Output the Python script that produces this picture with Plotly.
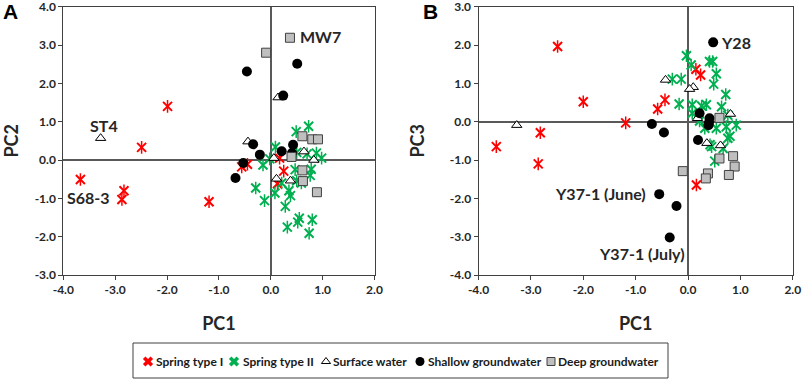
import plotly.graph_objects as go

# ---------------- data ----------------
tick_x_vals = [-4, -3, -2, -1, 0, 1, 2]
tick_x_text = ["-4.0", "-3.0", "-2.0", "-1.0", "0.0", "1.0", "2.0"]
tick_ya_vals = [-3, -2, -1, 0, 1, 2, 3, 4]
tick_ya_text = ["-3.0", "-2.0", "-1.0", "0.0", "1.0", "2.0", "3.0", "4.0"]
tick_yb_vals = [-4, -3, -2, -1, 0, 1, 2, 3]
tick_yb_text = ["-4.0", "-3.0", "-2.0", "-1.0", "0.0", "1.0", "2.0", "3.0"]

groups = ["Spring type I", "Spring type II", "Surface water", "Shallow groundwater", "Deep groundwater"]

# Panel A : PC1 vs PC2
s1_a_pc1 = [-3.67, -2.87, -2.83, -2.49, -1.99, -1.19, -0.56, -0.45, 0.13, 0.17, 0.25]
s1_a_pc2 = [-0.51, -1.03, -0.80, 0.33, 1.40, -1.09, -0.18, -0.11, -0.62, 0.05, -0.29]
s2_a_pc1 = [0.49, 0.73, 0.09, -0.15, -0.02, 0.50, 0.70, 0.88, 0.98, 0.47, 0.78, 0.76, 0.59,
            0.21, -0.29, 0.08, 0.35, 0.38, -0.12, 0.28, 0.55, 0.52, 0.80, 0.32, 0.74, 0.50]
s2_a_pc2 = [0.74, 0.88, 0.34, -0.13, 0.03, 0.20, 0.16, 0.18, 0.05, -0.25, -0.24, -0.40, -0.60,
            -0.60, -0.73, -0.86, -0.80, -0.93, -1.06, -1.21, -1.52, -1.62, -1.56, -1.75, -1.91, -0.54]
sw_a_pc1 = [-3.28, 0.14, -0.44, 0.06, 0.64, 0.83, 0.11, 0.38]
sw_a_pc2 = [0.57, 1.63, 0.48, 0.05, 0.22, 0.00, -0.49, -0.54]
sh_a_pc1 = [-0.46, 0.51, 0.24, -0.34, -0.21, -0.53, -0.68, 0.21, 0.43, 0.41]
sh_a_pc2 = [2.31, 2.51, 1.68, 0.41, 0.14, -0.08, -0.47, 0.23, 0.40, 0.18]
dp_a_pc1 = [0.37, -0.09, 0.61, 0.80, 0.91, 0.40, 0.61, 0.62, 0.89]
dp_a_pc2 = [3.19, 2.80, 0.62, 0.54, 0.54, 0.08, -0.27, -0.55, -0.84]

# Panel B : PC1 vs PC3
s1_b_pc1 = [-3.66, -2.86, -2.82, -2.49, -2.00, -1.19, -0.58, -0.44, 0.15, 0.24, 0.16]
s1_b_pc3 = [-0.65, -1.10, -0.29, 1.96, 0.52, -0.03, 0.33, 0.57, 1.37, 1.22, -1.65]
s2_b_pc1 = [-0.03, 0.06, 0.41, 0.47, 0.54, 0.49, -0.30, -0.13, -0.17, 0.72, 0.08, 0.26, 0.35, 0.64,
            0.08, 0.76, 0.32, 0.54, 0.73, 0.92, 0.76, 0.45, 0.67, 0.51, 0.22, 0.80, 0.42]
s2_b_pc3 = [1.72, 1.48, 1.57, 1.57, 1.25, 0.98, 1.11, 1.11, 0.46, 0.71, 0.44, 0.41, 0.44, 0.39,
            0.22, 0.17, -0.17, -0.17, -0.13, -0.09, -0.43, -0.65, -0.70, -1.03, 0.02, -0.38, -0.60]
sw_b_pc1 = [-3.27, -0.43, 0.10, 0.03, 0.18, 0.81, 0.36, 0.62]
sw_b_pc3 = [-0.09, 1.09, 0.90, 0.85, 0.09, 0.20, -0.56, -0.62]
sh_b_pc1 = [0.48, -0.69, -0.46, 0.22, 0.41, 0.40, 0.39, 0.19, -0.55, -0.22, -0.35]
sh_b_pc3 = [2.07, -0.06, -0.28, 0.22, 0.09, -0.03, -0.09, -0.48, -1.89, -2.20, -3.02]
dp_b_pc1 = [-0.10, 0.60, 0.60, 0.86, 0.89, 0.78, 0.38, 0.34]
dp_b_pc3 = [-1.29, 0.10, -0.96, -0.90, -1.17, -1.39, -1.35, -1.48]

# sample labels
labels_a = ["MW7", "ST4", "S68-3"]
labels_a_x = [0.52, -3.22, -3.52]
labels_a_y = [3.22, 0.89, -0.99]
labels_b = ["Y28", "Y37-1 (June)", "Y37-1 (July)"]
labels_b_x = [0.59, -0.77, -0.88]
labels_b_y = [2.07, -1.87, -3.44]

# ---------------- styles ----------------
RED = "#FF0000"
GREEN = "#00B050"
FONT = "Lato"
W, H = 803, 381

fig = go.Figure()

def add_panel(xa, ya, s1, s2, sw, sh, dp):
    for pts, col, g in ((s1, RED, groups[0]), (s2, GREEN, groups[1])):
        fig.add_trace(go.Scatter(x=pts[0], y=pts[1], mode="markers", name=g,
                                 showlegend=False, xaxis=xa, yaxis=ya,
                                 marker=dict(symbol="x-thin-open", size=9, color=col,
                                             line=dict(color=col, width=2))))
        fig.add_trace(go.Scatter(x=pts[0], y=pts[1], mode="markers", name=g,
                                 showlegend=False, xaxis=xa, yaxis=ya, hoverinfo="skip",
                                 marker=dict(symbol="line-ns-open", size=9, color=col,
                                             line=dict(color=col, width=1.5))))
    fig.add_trace(go.Scatter(x=sw[0], y=sw[1], mode="markers", name=groups[2],
                             showlegend=False, xaxis=xa, yaxis=ya,
                             marker=dict(symbol="triangle-up", size=9, color="white",
                                         line=dict(color="black", width=1))))
    fig.add_trace(go.Scatter(x=sh[0], y=sh[1], mode="markers", name=groups[3],
                             showlegend=False, xaxis=xa, yaxis=ya,
                             marker=dict(symbol="circle", size=10, color="black",
                                         line=dict(color="black", width=0))))
    fig.add_trace(go.Scatter(x=dp[0], y=dp[1], mode="markers", name=groups[4],
                             showlegend=False, xaxis=xa, yaxis=ya,
                             marker=dict(symbol="square", size=9, color="#BFBFBF",
                                         line=dict(color="#404040", width=1))))

add_panel("x", "y", (s1_a_pc1, s1_a_pc2), (s2_a_pc1, s2_a_pc2), (sw_a_pc1, sw_a_pc2),
          (sh_a_pc1, sh_a_pc2), (dp_a_pc1, dp_a_pc2))
add_panel("x2", "y2", (s1_b_pc1, s1_b_pc3), (s2_b_pc1, s2_b_pc3), (sw_b_pc1, sw_b_pc3),
          (sh_b_pc1, sh_b_pc3), (dp_b_pc1, dp_b_pc3))

# ---------------- legend (keys drawn on a pixel-space overlay axis) ----------------
legend_box = dict(x0=133, x1=668, y0=343, y1=378)
legend_key_x = [148, 234, 326, 420, 551]
legend_text_x = [154, 241, 331, 426, 556]
legend_row_y = 361.5
key_styles = [
    dict(symbol="x", size=9, color=RED, line=dict(width=0)),
    dict(symbol="x", size=9, color=GREEN, line=dict(width=0)),
    dict(symbol="triangle-up-open", size=8, color="black", line=dict(color="black", width=1)),
    dict(symbol="circle", size=9, color="black", line=dict(width=0)),
    dict(symbol="square", size=8, color="#BFBFBF", line=dict(color="#404040", width=1)),
]
for i, g in enumerate(groups):
    fig.add_trace(go.Scatter(x=[legend_key_x[i]], y=[legend_row_y], mode="markers", name=g,
                             showlegend=False, xaxis="x3", yaxis="y3", hoverinfo="skip",
                             marker=key_styles[i]))

tickfont = dict(family=FONT, size=12, color="#262626", weight="bold")
titlefont = dict(family=FONT, size=18, color="#262626", weight="bold")

def xaxis(domain, anchor):
    return dict(domain=domain, anchor=anchor, range=[-4, 2], tickmode="array",
                tickvals=tick_x_vals, ticktext=tick_x_text, ticks="outside", ticklen=4,
                tickcolor="#404040", showline=True, mirror=True, linecolor="#404040",
                linewidth=1, showgrid=False, zeroline=True, zerolinecolor="#595959",
                zerolinewidth=1.5, tickfont=tickfont, ticklabeloverflow="allow",
                automargin=False,
                title=dict(text="PC1", font=titlefont, standoff=20))

def yaxis(domain, anchor, rng, vals, text, title):
    return dict(domain=domain, anchor=anchor, range=rng, tickmode="array",
                tickvals=vals, ticktext=text, ticks="outside", ticklen=4,
                tickcolor="#404040", showline=True, mirror=True, linecolor="#404040",
                linewidth=1, showgrid=False, zeroline=True, zerolinecolor="#595959",
                zerolinewidth=1.5, tickfont=tickfont, ticklabeloverflow="allow",
                automargin=False,
                title=dict(text=title, font=titlefont, standoff=20))

ydom = [1 - 275 / H, 1 - 6.7 / H]
fig.update_layout(
    width=W, height=H,
    margin=dict(l=0, r=0, t=0, b=0, autoexpand=False),
    paper_bgcolor="white", plot_bgcolor="rgba(0,0,0,0)",
    showlegend=False,
    xaxis=xaxis([63.3 / W, 374.5 / W], "y"),
    yaxis=yaxis(ydom, "x", [-3, 4], tick_ya_vals, tick_ya_text, "PC2"),
    xaxis2=xaxis([478.5 / W, 792.8 / W], "y2"),
    yaxis2=yaxis(ydom, "x2", [-4, 3], tick_yb_vals, tick_yb_text, "PC3"),
    xaxis3=dict(domain=[0, 1], range=[0, W], visible=False, fixedrange=True, anchor="y3",
                automargin=False),
    yaxis3=dict(domain=[0, 1], range=[H, 0], visible=False, fixedrange=True, anchor="x3",
                automargin=False),
)

fig.add_shape(type="rect", xref="x3", yref="y3", layer="below",
              line=dict(color="#404040", width=1), fillcolor="rgba(0,0,0,0)", **legend_box)

ann = []
for t, x, y in zip(labels_a, labels_a_x, labels_a_y):
    ann.append(dict(text=t, x=x, y=y, xref="x", yref="y", showarrow=False,
                    xanchor="left" if t == "MW7" else "center",
                    font=dict(family=FONT, size=16, color="#262626", weight="bold")))
for t, x, y in zip(labels_b, labels_b_x, labels_b_y):
    xa = {"Y28": "left", "Y37-1 (June)": "right"}.get(t, "center")
    ann.append(dict(text=t, x=x, y=y, xref="x2", yref="y2", showarrow=False, xanchor=xa,
                    font=dict(family=FONT, size=16, color="#262626", weight="bold")))
for i, g in enumerate(groups):
    ann.append(dict(text=g, x=legend_text_x[i], y=legend_row_y, xref="x3", yref="y3",
                    xanchor="left", yanchor="middle", showarrow=False,
                    font=dict(family=FONT, size=12, color="#1a1a1a", weight="bold")))
ann.append(dict(text="A", x=1 / W, y=1 - 12 / H, xref="paper", yref="paper",
                xanchor="left", yanchor="middle", showarrow=False,
                font=dict(family="Liberation Sans", size=21, color="black", weight="bold")))
ann.append(dict(text="B", x=421 / W, y=1 - 12 / H, xref="paper", yref="paper",
                xanchor="left", yanchor="middle", showarrow=False,
                font=dict(family="Liberation Sans", size=21, color="black", weight="bold")))
fig.update_layout(annotations=ann)

fig.write_html("out.html", config={"displayModeBar": False},
               post_script="document.body.style.margin='0';")
